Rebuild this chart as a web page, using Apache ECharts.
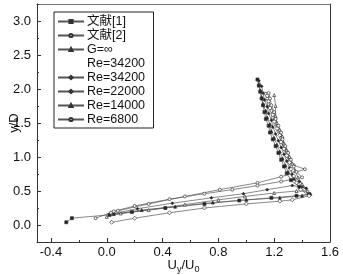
<!DOCTYPE html>
<html>
<head>
<meta charset="utf-8">
<script src="https://cdn.jsdelivr.net/npm/echarts@6/dist/echarts.min.js"></script>
<style>
  html, body { margin: 0; padding: 0; background: #fff; }
  #chart { width: 343px; height: 275px; }
</style>
</head>
<body>
<div id="chart"></div>
<script>
// tick labels
const xTicks = [-0.4, 0.0, 0.4, 0.8, 1.2, 1.6];
const xMinor = [-0.2, 0.2, 0.6, 1.0, 1.4];
const yTicks = [0.0, 0.5, 1.0, 1.5, 2.0, 2.5, 3.0];
const yMinor = [-0.25, 0.25, 0.75, 1.25, 1.75, 2.25, 2.75, 3.25];

// series values, [Uy/U0, y/D]
const lit1 = [[-0.29,0.04],[-0.25,0.10],[0.02,0.15],[0.18,0.19],[0.42,0.25],[0.70,0.31],[0.95,0.36],[1.18,0.40],[1.36,0.43],[1.45,0.45],[1.38,0.56],[1.32,0.66],[1.29,0.76],[1.27,0.86],[1.25,0.96],[1.23,1.06],[1.21,1.16],[1.19,1.26],[1.17,1.36],[1.16,1.46],[1.14,1.56],[1.13,1.66],[1.12,1.76],[1.11,1.86],[1.10,1.96],[1.09,2.05],[1.08,2.14]];
const lit2 = [[-0.08,0.10],[0.03,0.18],[0.08,0.21],[0.30,0.31],[0.56,0.42],[0.81,0.52],[1.08,0.62],[1.25,0.71],[1.42,0.82],[1.34,0.88],[1.31,0.98],[1.29,1.08],[1.27,1.18],[1.25,1.28],[1.23,1.38],[1.21,1.48],[1.19,1.58],[1.18,1.68],[1.16,1.78],[1.15,1.86],[1.14,1.93]];
const gInf = [[0.05,0.16],[0.25,0.22],[0.49,0.27],[0.76,0.33],[1.00,0.37],[1.24,0.40],[1.40,0.43],[1.46,0.46],[1.40,0.57],[1.34,0.68],[1.30,0.78],[1.28,0.88],[1.26,0.98],[1.24,1.08],[1.22,1.18],[1.20,1.28],[1.18,1.38],[1.17,1.48],[1.15,1.58],[1.14,1.68],[1.12,1.78],[1.11,1.88],[1.10,1.98],[1.09,2.07]];
const re34200 = [[0.05,0.17],[0.22,0.24],[0.47,0.32],[0.75,0.40],[0.98,0.46],[1.15,0.52],[1.33,0.58],[1.43,0.54],[1.38,0.64],[1.33,0.74],[1.31,0.84],[1.29,0.94],[1.27,1.04],[1.25,1.14],[1.23,1.24],[1.21,1.34],[1.19,1.44],[1.18,1.54],[1.16,1.64],[1.15,1.74],[1.13,1.84],[1.12,1.94],[1.11,2.04],[1.09,2.12]];
const re22000 = [[0.035,0.04],[0.20,0.10],[0.45,0.18],[0.70,0.25],[1.00,0.31],[1.24,0.35],[1.33,0.37],[1.45,0.43],[1.39,0.52],[1.36,0.62],[1.34,0.72],[1.32,0.82],[1.31,0.92],[1.29,1.02],[1.27,1.12],[1.25,1.22],[1.24,1.32],[1.22,1.42],[1.20,1.52],[1.19,1.62],[1.17,1.72],[1.16,1.82],[1.15,1.90]];
const re14000 = [[0.00,0.12],[0.10,0.17],[0.30,0.22],[0.56,0.30],[0.80,0.37],[0.99,0.42],[1.20,0.47],[1.36,0.50],[1.44,0.50],[1.40,0.60],[1.37,0.70],[1.35,0.80],[1.33,0.90],[1.31,1.00],[1.29,1.10],[1.27,1.20],[1.26,1.30],[1.24,1.40],[1.22,1.50],[1.21,1.60],[1.21,1.75],[1.20,1.91]];
const re6800 = [[0.05,0.20],[0.20,0.28],[0.45,0.38],[0.70,0.46],[0.90,0.52],[1.08,0.58],[1.25,0.64],[1.40,0.70],[1.36,0.78],[1.34,0.86],[1.32,0.96],[1.30,1.06],[1.28,1.16],[1.26,1.26],[1.25,1.36],[1.23,1.46],[1.21,1.56],[1.20,1.66],[1.18,1.76],[1.17,1.86],[1.16,1.94]];

let font = "'Liberation Sans', Arial, 'Noto Sans CJK SC', sans-serif";
let lineColor = "#555";

function mkSeries(name, data, symbol, filled, size) {
  return {
    name: name,
    type: "line",
    data: data,
    symbol: symbol,
    symbolSize: size,
    showSymbol: true,
    animation: false,
    lineStyle: { color: lineColor, width: 0.7 },
    itemStyle: {
      color: filled ? "#222" : "#fff",
      borderColor: "#333",
      borderWidth: 0.7
    }
  };
}

let chart = echarts.init(document.getElementById("chart"));
let option = {
  animation: false,
  backgroundColor: "#fff",
  grid: { left: 37, top: 4, right: 13, bottom: 33, containLabel: false, outerBoundsMode: "none" },
  legend: {
    orient: "vertical",
    left: 54,
    top: 12,
    padding: [3, 5, 2, 3],
    itemWidth: 26,
    itemHeight: 4,
    itemGap: 1,
    borderColor: "#222",
    borderWidth: 1,
    backgroundColor: "#fff",
    textStyle: { fontFamily: font, fontSize: 12.5, color: "#111", lineHeight: 13, padding: [0, 0, 0, -2] },
    data: [
      "文献[1]",
      "文献[2]",
      "G=∞",
      { name: "Re=34200 ", itemStyle: { opacity: 0 }, lineStyle: { opacity: 0 } },
      "Re=34200",
      "Re=22000",
      "Re=14000",
      "Re=6800"
    ]
  },
  xAxis: [
    {
      type: "value",
      position: "bottom",
      min: -0.5,
      max: 1.6,
      name: "U{s|y}/U{s|0}",
      nameLocation: "middle",
      nameGap: 15,
      nameMoveOverlap: false,
      nameTextStyle: {
        fontFamily: font, fontSize: 13, color: "#111",
        rich: { s: { fontFamily: font, fontSize: 9, color: "#111", verticalAlign: "bottom", padding: [8, 0, 0, 0] } }
      },
      splitLine: { show: false },
      axisLine: { show: true, onZero: false, lineStyle: { color: "#333", width: 1 } },
      axisTick: { show: true, inside: true, length: 4, lineStyle: { color: "#333" }, customValues: xTicks },
      axisLabel: { fontFamily: font, fontSize: 13, color: "#111", margin: 4, customValues: xTicks,
        formatter: v => v.toFixed(1) }
    },
    {
      type: "value",
      position: "bottom",
      min: -0.5,
      max: 1.6,
      splitLine: { show: false },
      axisLine: { show: false, onZero: false },
      axisTick: { show: true, inside: true, length: 2, lineStyle: { color: "#333" }, customValues: xMinor },
      axisLabel: { show: false }
    },
    {
      type: "value",
      position: "top",
      min: -0.5,
      max: 1.6,
      splitLine: { show: false },
      axisLine: { show: true, onZero: false, lineStyle: { color: "#777", width: 1 } },
      axisTick: { show: false },
      axisLabel: { show: false }
    }
  ],
  yAxis: [
    {
      type: "value",
      position: "left",
      min: -0.25,
      max: 3.25,
      name: "y/D",
      nameLocation: "middle",
      nameGap: 16,
      nameMoveOverlap: false,
      nameTextStyle: { fontFamily: font, fontSize: 13, color: "#111" },
      splitLine: { show: false },
      axisLine: { show: true, onZero: false, lineStyle: { color: "#333", width: 1 } },
      axisTick: { show: true, inside: true, length: 4, lineStyle: { color: "#333" }, customValues: yTicks },
      axisLabel: { fontFamily: font, fontSize: 13, color: "#111", margin: 6, customValues: yTicks,
        formatter: v => v.toFixed(1) }
    },
    {
      type: "value",
      position: "left",
      min: -0.25,
      max: 3.25,
      splitLine: { show: false },
      axisLine: { show: false, onZero: false },
      axisTick: { show: true, inside: true, length: 2, lineStyle: { color: "#333" }, customValues: yMinor },
      axisLabel: { show: false }
    },
    {
      type: "value",
      position: "right",
      min: -0.25,
      max: 3.25,
      splitLine: { show: false },
      axisLine: { show: true, onZero: false, lineStyle: { color: "#333", width: 1 } },
      axisTick: { show: false },
      axisLabel: { show: false }
    }
  ],
  series: [
    mkSeries("文献[1]", lit1, "rect", true, 3),
    mkSeries("文献[2]", lit2, "circle", false, 3),
    mkSeries("G=∞", gInf, "triangle", true, 3),
    {
      name: "Re=34200 ",
      type: "line",
      data: [],
      symbol: "none",
      lineStyle: { opacity: 0 },
      itemStyle: { opacity: 0 }
    },
    mkSeries("Re=34200", re34200, "diamond", true, 3),
    mkSeries("Re=22000", re22000, "diamond", false, 4),
    mkSeries("Re=14000", re14000, "triangle", false, 3),
    mkSeries("Re=6800", re6800, "circle", false, 3)
  ]
};
chart.setOption(option);
window.addEventListener("resize", () => {
  chart.resize();
});
</script>
</body>
</html>
